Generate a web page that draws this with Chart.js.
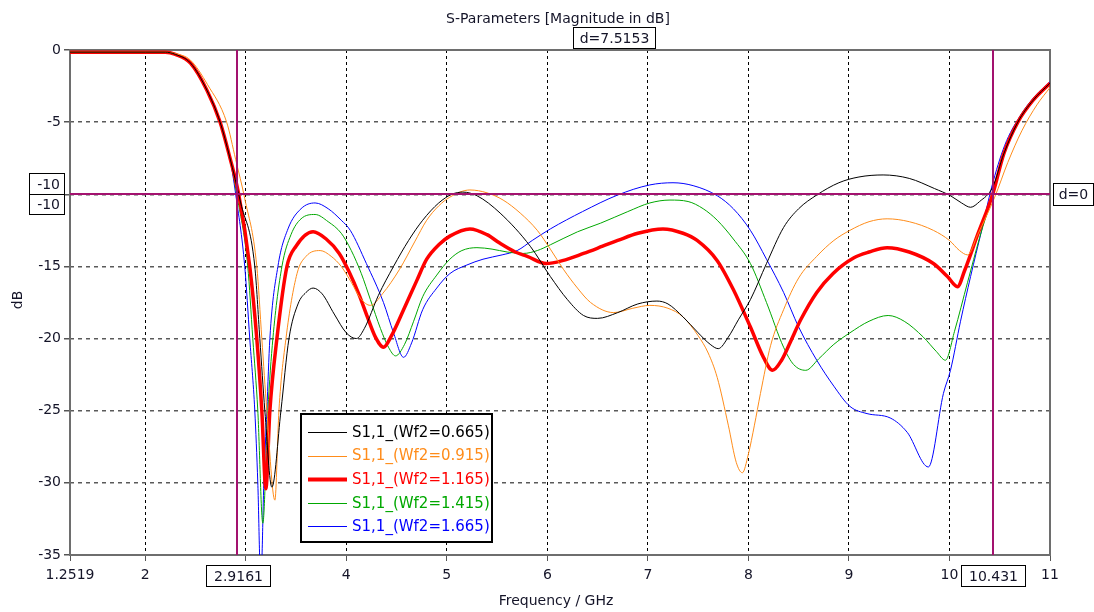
<!DOCTYPE html>
<html>
<head>
<meta charset="utf-8">
<script src="https://cdn.jsdelivr.net/npm/chart.js@4/dist/chart.umd.min.js"></script>
<style>
  html, body { margin: 0; padding: 0; background: #fff; }
  #wrap { width: 1094px; height: 612px; }
</style>
</head>
<body>
<div id="wrap"><canvas id="sparamChart" width="1094" height="612"></canvas></div>
<script>
// S11 sweep over Wf2 (GHz / dB)
const freq0665 = [1.2519, 2.0, 2.2, 2.3, 2.45, 2.615, 2.745, 2.84, 2.95, 3.09, 3.14, 3.19, 3.26, 3.35, 3.43, 3.52, 3.6, 3.67, 3.76, 3.88, 4.0, 4.1, 4.18, 4.32, 4.47, 4.62, 4.76, 4.92, 5.05, 5.16, 5.3, 5.53, 5.83, 6.03, 6.2, 6.36, 6.5, 6.7, 6.9, 7.09, 7.2, 7.35, 7.5, 7.62, 7.7, 7.8, 7.9, 8.02, 8.18, 8.35, 8.5, 8.68, 8.9, 9.1, 9.34, 9.6, 9.85, 10.01, 10.12, 10.21, 10.3, 10.43, 10.54, 10.68, 10.83, 11];
const db0665 = [-0.15, -0.15, -0.15, -0.3, -0.9, -2.8, -5.0, -7.4, -10.6, -15, -20, -25, -30.3, -25, -20, -17.6, -16.8, -16.5, -16.9, -18.3, -19.6, -20.0, -19.3, -17.0, -15.0, -13.2, -11.8, -10.6, -10.0, -9.85, -10.1, -11.3, -13.6, -15.7, -17.3, -18.4, -18.6, -18.2, -17.6, -17.4, -17.6, -18.5, -19.6, -20.4, -20.7, -19.9, -18.7, -17.3, -14.8, -12.3, -11.0, -10.05, -9.2, -8.8, -8.66, -8.9, -9.6, -10.1, -10.6, -10.9, -10.5, -9.5, -7.2, -5.0, -3.5, -2.3];

const freq0915 = [1.2519, 2.0, 2.2, 2.3, 2.45, 2.62, 2.81, 2.9, 2.99, 3.11, 3.16, 3.21, 3.29, 3.33, 3.4, 3.51, 3.6, 3.74, 3.85, 3.95, 4.05, 4.14, 4.24, 4.36, 4.53, 4.68, 4.8, 4.92, 5.03, 5.23, 5.4, 5.56, 5.73, 5.9, 6.03, 6.16, 6.3, 6.43, 6.66, 6.85, 7.02, 7.2, 7.35, 7.5, 7.6, 7.69, 7.8, 7.88, 7.94, 8.0, 8.06, 8.12, 8.22, 8.35, 8.5, 8.68, 8.85, 9.01, 9.2, 9.38, 9.6, 9.84, 10.0, 10.1, 10.18, 10.28, 10.45, 10.58, 10.72, 10.87, 11];
const db0915 = [-0.15, -0.15, -0.15, -0.25, -0.7, -2.4, -5.0, -7.6, -10.3, -15, -20, -25, -31.2, -25, -20, -15.5, -14.3, -13.9, -14.3, -15.0, -16.1, -17.2, -17.7, -16.9, -15.2, -13.3, -11.8, -10.8, -10.2, -9.7, -9.9, -10.4, -11.3, -12.5, -13.8, -15.2, -16.5, -17.5, -18.2, -17.9, -17.7, -17.9, -18.5, -19.8, -21.0, -22.7, -26.0, -28.6, -29.3, -28.0, -26.0, -23.8, -20.5, -18.0, -15.8, -14.3, -13.2, -12.5, -11.9, -11.7, -11.9, -12.5, -13.2, -13.9, -14.2, -12.8, -10.2, -7.8, -5.6, -3.8, -2.6];

const freq1165 = [1.2519, 2.0, 2.2, 2.3, 2.45, 2.615, 2.745, 2.84, 2.93, 3.04, 3.11, 3.16, 3.2, 3.24, 3.31, 3.41, 3.5, 3.67, 3.8, 3.93, 4.03, 4.13, 4.21, 4.29, 4.37, 4.45, 4.57, 4.7, 4.8, 4.92, 5.03, 5.23, 5.4, 5.53, 5.68, 5.8, 5.99, 6.15, 6.36, 6.55, 6.7, 6.9, 7.15, 7.35, 7.49, 7.69, 7.85, 8.02, 8.15, 8.24, 8.33, 8.42, 8.52, 8.68, 8.84, 9.05, 9.2, 9.38, 9.6, 9.84, 9.98, 10.08, 10.15, 10.28, 10.43, 10.54, 10.68, 10.83, 11];
const db1165 = [-0.15, -0.15, -0.15, -0.3, -0.9, -2.8, -5.0, -7.4, -10, -15, -20, -25, -30.4, -25, -20, -15, -13.6, -12.6, -13.1, -14.1, -15.4, -17.0, -18.5, -19.9, -20.6, -19.8, -18.0, -16.0, -14.5, -13.5, -12.9, -12.4, -12.8, -13.4, -14.0, -14.3, -14.8, -14.6, -14.1, -13.6, -13.2, -12.7, -12.4, -12.7, -13.2, -14.6, -16.6, -19.2, -21.3, -22.2, -21.5, -20.2, -18.7, -16.8, -15.5, -14.4, -14.0, -13.7, -14.0, -14.8, -15.7, -16.4, -15.3, -12.8, -10.0, -7.2, -5.0, -3.5, -2.3];

const freq1415 = [1.2519, 2.0, 2.2, 2.3, 2.45, 2.615, 2.745, 2.84, 2.91, 3.02, 3.07, 3.12, 3.17, 3.22, 3.27, 3.36, 3.45, 3.55, 3.69, 3.82, 3.95, 4.05, 4.15, 4.24, 4.34, 4.42, 4.49, 4.58, 4.67, 4.76, 4.9, 5.03, 5.15, 5.3, 5.45, 5.6, 5.76, 5.9, 6.03, 6.3, 6.53, 6.8, 7.02, 7.22, 7.4, 7.55, 7.69, 7.85, 8.02, 8.18, 8.35, 8.45, 8.57, 8.7, 8.85, 9.01, 9.2, 9.39, 9.55, 9.74, 9.87, 9.96, 10.05, 10.18, 10.3, 10.43, 10.54, 10.68, 10.83, 11];
const db1415 = [-0.15, -0.15, -0.15, -0.3, -0.9, -2.8, -5.0, -7.4, -10, -15, -20, -25, -32.8, -25, -20, -15, -12.8, -11.7, -11.4, -11.9, -12.7, -13.9, -15.5, -17.3, -19.3, -20.6, -21.2, -20.4, -18.8, -17.1, -15.6, -14.5, -13.9, -13.7, -13.8, -14.0, -14.1, -13.9, -13.5, -12.6, -12.0, -11.2, -10.6, -10.4, -10.5, -11.0, -11.8, -13.1, -14.8, -17.5, -20.6, -21.8, -22.2, -21.4, -20.4, -19.6, -18.8, -18.4, -18.8, -19.9, -20.9, -21.5, -19.5, -16.1, -13.0, -10.0, -7.1, -4.9, -3.4, -2.3];

const freq1665 = [1.2519, 2.0, 2.2, 2.3, 2.45, 2.615, 2.745, 2.84, 2.9, 2.99, 3.04, 3.09, 3.12, 3.15, 3.18, 3.21, 3.24, 3.32, 3.42, 3.55, 3.69, 3.82, 3.95, 4.04, 4.2, 4.37, 4.47, 4.57, 4.65, 4.76, 4.9, 5.03, 5.2, 5.36, 5.55, 5.7, 5.85, 6.03, 6.35, 6.7, 7.02, 7.25, 7.45, 7.69, 7.85, 8.02, 8.18, 8.35, 8.5, 8.68, 8.85, 9.01, 9.18, 9.41, 9.58, 9.79, 9.94, 10.01, 10.11, 10.21, 10.32, 10.42, 10.55, 10.7, 10.85, 11];
const db1665 = [-0.15, -0.15, -0.15, -0.3, -0.9, -2.8, -5.0, -7.4, -10, -15, -20, -25, -30, -37, -30, -25, -20, -15, -12.4, -11.0, -10.6, -11.0, -11.8, -12.5, -14.8, -17.5, -19.6, -21.3, -20.3, -18.0, -16.5, -15.5, -14.9, -14.5, -14.2, -13.9, -13.2, -12.4, -11.2, -10.05, -9.35, -9.2, -9.4, -10.1, -11.0, -12.5, -14.5, -16.8, -19.2, -21.5, -23.3, -24.7, -25.2, -25.5, -26.5, -28.9, -23.8, -22.2, -18.8, -15.7, -12.5, -9.5, -6.6, -4.6, -3.2, -2.2];

const seriesLabels = ['S1,1_(Wf2=0.665)', 'S1,1_(Wf2=0.915)', 'S1,1_(Wf2=1.165)', 'S1,1_(Wf2=1.415)', 'S1,1_(Wf2=1.665)'];
const seriesColors = ['#000000', '#ff8c1a', '#ff0000', '#00a800', '#0000ff'];
const seriesWidths = [1, 1, 3.5, 1, 1];

const freqTicks = [1.2519, 2, 3, 4, 5, 6, 7, 8, 9, 10, 11];
const markerFreqs = [2.9161, 10.431];
const markerDb = -10;
const markerDelta = 'd=7.5153';

const FONT = '"DejaVu Sans", sans-serif';
const TEXT = '#141428';
const MARKER = '#a3126f';

const seriesFreqs = [freq0665, freq0915, freq1165, freq1415, freq1665];
const seriesDb = [db0665, db0915, db1165, db1415, db1665];

const datasets = seriesLabels.map((label, i) => ({
  label: label,
  data: seriesFreqs[i].map((f, k) => ({ x: f, y: seriesDb[i][k] })),
  borderColor: seriesColors[i],
  borderWidth: seriesWidths[i],
  pointRadius: 0,
  fill: false,
  cubicInterpolationMode: 'monotone'
}));

function labelBox(ctx, text, x, y, w, h, align) {
  ctx.fillStyle = '#fff';
  ctx.fillRect(x, y, w, h);
  ctx.strokeStyle = '#000';
  ctx.lineWidth = 1;
  ctx.strokeRect(x + 0.5, y + 0.5, w - 1, h - 1);
  ctx.fillStyle = TEXT;
  ctx.textBaseline = 'middle';
  if (align === 'right') {
    ctx.textAlign = 'right';
    ctx.fillText(text, x + w - 5, y + h / 2 + 1);
  } else {
    ctx.textAlign = 'center';
    ctx.fillText(text, x + w / 2, y + h / 2 + 1);
  }
}

const overlayPlugin = {
  id: 'overlay',
  beforeDatasetsDraw(chart) {
    const { ctx, chartArea: a } = chart;
    ctx.save();
    ctx.strokeStyle = '#6e6e6e';
    ctx.lineWidth = 2;
    ctx.strokeRect(a.left, a.top, a.right - a.left, a.bottom - a.top);
    ctx.restore();
  },
  afterDatasetsDraw(chart) {
    const { ctx, chartArea: a, scales: { x, y } } = chart;
    ctx.save();
    ctx.strokeStyle = MARKER;
    ctx.lineWidth = 2;
    markerFreqs.forEach(f => {
      const px = Math.round(x.getPixelForValue(f));
      ctx.beginPath();
      ctx.moveTo(px, a.top);
      ctx.lineTo(px, a.bottom);
      ctx.stroke();
    });
    const py = Math.round(y.getPixelForValue(markerDb));
    ctx.beginPath();
    ctx.moveTo(a.left, py);
    ctx.lineTo(a.right, py);
    ctx.stroke();
    ctx.restore();
  },
  afterDraw(chart) {
    const { ctx, chartArea: a, scales: { x, y } } = chart;
    ctx.save();

    // title and axis titles
    ctx.font = '14px ' + FONT;
    ctx.fillStyle = TEXT;
    ctx.textAlign = 'center';
    ctx.textBaseline = 'middle';
    ctx.fillText('S-Parameters [Magnitude in dB]', 558, 19);
    ctx.fillText('Frequency / GHz', 556, 601);
    ctx.save();
    ctx.translate(18, 300);
    ctx.rotate(-Math.PI / 2);
    ctx.fillText('dB', 0, 0);
    ctx.restore();

    // marker readouts
    const py = Math.round(y.getPixelForValue(markerDb));
    labelBox(ctx, String(markerDb), 29, py - 21, 36, 22, 'right');
    labelBox(ctx, String(markerDb), 29, py, 36, 21, 'right');
    labelBox(ctx, 'd=0', a.right + 3, py - 11, 41, 23);
    labelBox(ctx, markerDelta, 573, 27, 83, 22);
    markerFreqs.forEach(f => {
      const px = x.getPixelForValue(f);
      const txt = String(f);
      const w = Math.round(ctx.measureText(txt).width) + 16;
      labelBox(ctx, txt, Math.round(px - w / 2) + 1, a.bottom + 10, w, 22);
    });

    // legend
    const lx = 300, ly = 413, lw = 193, lh = 130;
    ctx.fillStyle = '#fff';
    ctx.fillRect(lx, ly, lw, lh);
    ctx.strokeStyle = '#000';
    ctx.lineWidth = 2;
    ctx.strokeRect(lx + 1, ly + 1, lw - 2, lh - 2);
    ctx.font = '15px ' + FONT;
    ctx.textAlign = 'left';
    seriesLabels.forEach((label, i) => {
      const ry = 432 + i * 23.6;
      ctx.strokeStyle = seriesColors[i];
      ctx.lineWidth = seriesWidths[i] === 1 ? 1 : 4;
      ctx.beginPath();
      ctx.moveTo(308, Math.round(ry) + 0.5);
      ctx.lineTo(347, Math.round(ry) + 0.5);
      ctx.stroke();
      ctx.fillStyle = seriesColors[i];
      ctx.fillText(label, 352, ry + 1);
    });
    ctx.restore();
  }
};

const canvas = document.getElementById('sparamChart');
const ctx = canvas.getContext('2d');

new Chart(ctx, {
  type: 'line',
  data: { datasets: datasets },
  plugins: [overlayPlugin],
  options: {
    responsive: false,
    animation: false,
    events: [],
    layout: { padding: { top: 50, right: 44, left: 0, bottom: 0 } },
    plugins: {
      legend: { display: false },
      title: { display: false },
      tooltip: { enabled: false }
    },
    scales: {
      x: {
        type: 'linear',
        min: 1.2519,
        max: 11,
        afterBuildTicks: scale => {
          scale.ticks = freqTicks.map(v => ({ value: v }));
        },
        afterFit: scale => { scale.height = 57; },
        ticks: {
          color: TEXT,
          font: { family: FONT, size: 14 },
          padding: 6,
          maxRotation: 0,
          autoSkip: false,
          callback: v => (v === 3 ? '' : String(v))
        },
        grid: {
          color: c => (c.tick && (c.tick.value === 1.2519 || c.tick.value === 11) ? 'rgba(0,0,0,0)' : '#000'),
          lineWidth: 1,
          tickLength: 6,
          tickColor: '#555',
          tickBorderDash: []
        },
        border: { display: false, dash: [3, 3] }
      },
      y: {
        min: -35,
        max: 0,
        afterFit: scale => { scale.width = 70; },
        ticks: {
          stepSize: 5,
          color: TEXT,
          font: { family: FONT, size: 14 },
          padding: 3,
          callback: v => (v === -10 ? '' : String(v))
        },
        grid: {
          color: c => (c.tick && (c.tick.value === 0 || c.tick.value === -35) ? 'rgba(0,0,0,0)' : '#5a5a5a'),
          lineWidth: 1.5,
          tickLength: 6,
          tickColor: '#555',
          tickBorderDash: []
        },
        border: { display: false, dash: [4, 4] }
      }
    }
  }
});
</script>
</body>
</html>
